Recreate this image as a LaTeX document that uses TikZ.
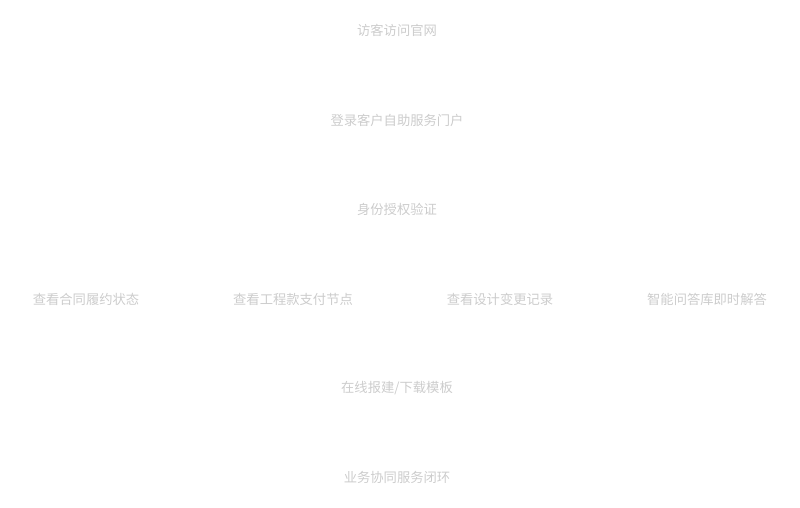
\documentclass[tikz,border=0pt]{standalone}
\usepackage{fontspec}
\newfontfamily\cjk{Noto Sans CJK SC}
\usepackage{tikz}

\begin{document}
\begin{tikzpicture}[x=1pt,y=-1pt,
	lbl/.style={font=\cjk\fontsize{13.3}{15}\selectfont, text=black!20, inner sep=0pt}]
	\useasboundingbox (0,0) rectangle (800,508);
	
	\node[lbl] (visit) at (397,30) {访客访问官网};
	\node[lbl] (login) at (397,120) {登录客户自助服务门户};
	\node[lbl] (auth) at (397,209) {身份授权验证};
	
	\node[lbl] (contract) at (86,299) {查看合同履约状态};
	\node[lbl] (payment) at (293,299) {查看工程款支付节点};
	\node[lbl] (change) at (500,299) {查看设计变更记录};
	\node[lbl] (qa) at (707,299) {智能问答库即时解答};
	
	\node[lbl] (apply) at (397,388) {在线报建/下载模板};
	\node[lbl] (close) at (397,477) {业务协同服务闭环};
\end{tikzpicture}
\end{document}
